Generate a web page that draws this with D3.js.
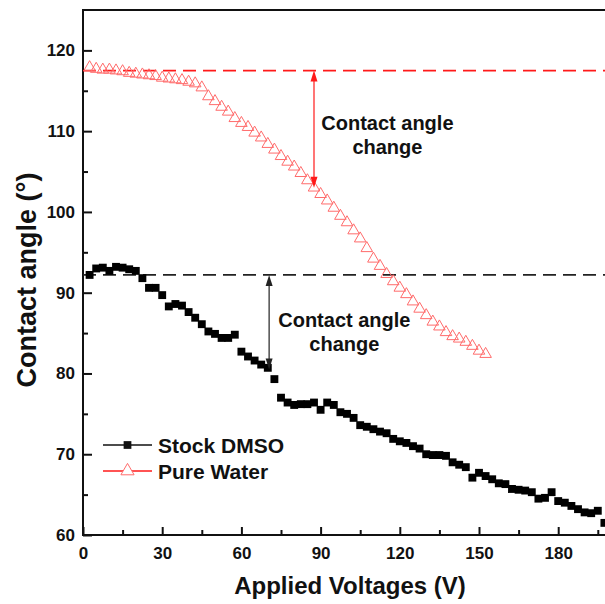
<!DOCTYPE html>
<html>
<head>
<meta charset="utf-8">
<script src="https://cdn.jsdelivr.net/npm/d3@7"></script>
<style>
body { margin: 0; background: #fff; }
text { font-family: "Liberation Sans", Arial, sans-serif; font-weight: bold; fill: #111; }
</style>
</head>
<body>
<svg id="chart" width="605" height="604"></svg>
<script>
// Stock DMSO, contact angle vs voltage
var dmsoV = [2.5,5,7.5,10,12.5,15,17.5,20,22.5,25,27.5,30,32.5,35,37.5,40,42.5,45,47.5,50,
  52.5,55,57.5,60,62.5,65,67.5,70,72.5,75,77.5,80,82.5,85,87.5,90,92.5,95,97.5,100,
  102.5,105,107.5,110,112.5,115,117.5,120,122.5,125,127.5,130,132.5,135,137.5,140,142.5,145,147.5,150,
  152.5,155,157.5,160,162.5,165,167.5,170,172.5,175,177.5,180,182.5,185,187.5,190,192.5,195,197.5];
var dmsoAngle = [92.2,93.0,93.1,92.7,93.2,93.1,92.9,92.7,91.8,90.6,90.6,89.7,88.3,88.6,88.4,87.6,86.9,86.1,85.2,84.9,
  84.4,84.4,84.8,82.7,82.1,81.6,81.1,80.7,79.3,77.0,76.4,76.1,76.2,76.2,76.4,75.5,76.4,76.1,75.2,75.0,
  74.5,73.6,73.4,73.1,72.8,72.6,71.9,71.6,71.4,71.0,70.7,70.0,69.9,69.9,69.8,69.0,68.7,68.4,67.1,67.7,
  67.3,66.9,66.4,66.3,65.7,65.6,65.5,65.3,64.5,64.6,65.3,64.2,64.0,63.6,63.2,62.8,62.7,63.0,61.5];

// Pure Water
var waterV = [2.5,5,7.5,10,12.5,15,17.5,20,22.5,25,27.5,30,32.5,35,37.5,40,42.5,45,47.5,50,
  52.5,55,57.5,60,62.5,65,67.5,70,72.5,75,77.5,80,82.5,85,87.5,90,92.5,95,97.5,100,
  102.5,105,107.5,110,112.5,115,117.5,120,122.5,125,127.5,130,132.5,135,137.5,140,142.5,145,147.5,150,152.5];
var waterAngle = [117.9,117.7,117.6,117.6,117.5,117.4,117.2,117.1,117.0,116.9,116.8,116.6,116.5,116.4,116.3,116.1,115.9,115.4,114.3,113.7,
  113.0,112.4,111.6,111.0,110.5,109.8,109.2,108.4,107.7,106.9,106.2,105.6,104.8,103.9,103.0,102.2,101.4,100.5,99.5,98.7,
  97.7,96.7,95.5,94.2,93.3,92.3,91.4,90.6,89.8,88.9,88.0,87.2,86.4,85.8,85.1,84.6,84.3,83.9,83.4,82.8,82.4];

var xTicks = [0,30,60,90,120,150,180];
var xMinor = [15,45,75,105,135,165,195];
var yTicks = [60,70,80,90,100,110,120];
var yMinor = [65,75,85,95,105,115];

// reference levels and arrows
var refLines = [ {angle: 117.5, color: "#ff1a1a"}, {angle: 92.2, color: "#222"} ];
var arrows = [ {v: 87.5, from: 117.5, to: 103.0, color: "#ff1a1a"},
               {v: 70.5, from: 92.2, to: 80.5, color: "#222"} ];
var notes = [ {v: 115.3, angle: 110.1, lines: ["Contact angle", "change"]},
              {v: 99.0, angle: 85.7, lines: ["Contact angle", "change"]} ];

var legendItems = [ {name: "Stock DMSO", color: "#111", shape: "square"},
                    {name: "Pure Water", color: "#ff1a1a", shape: "triangle"} ];

var svg = d3.select("#chart");
var plotLeft = 83, plotBottom = 535, plotTop = 10;

var x = d3.scaleLinear().domain([0, 200]).range([plotLeft, 611]);
var y = d3.scaleLinear().domain([60, 125]).range([plotBottom, plotTop]);

// axes (ticks inward)
svg.append("g").attr("transform", "translate(0," + plotBottom + ")")
    .call(d3.axisBottom(x).tickValues(xTicks).tickSize(-8).tickSizeOuter(0).tickPadding(12));
svg.append("g").attr("transform", "translate(0," + plotBottom + ")")
    .call(d3.axisBottom(x).tickValues(xMinor).tickSize(-5).tickSizeOuter(0).tickFormat(""));
svg.append("g").attr("transform", "translate(" + plotLeft + ",0)")
    .call(d3.axisLeft(y).tickValues(yTicks).tickSize(-9).tickSizeOuter(0).tickPadding(8));
svg.append("g").attr("transform", "translate(" + plotLeft + ",0)")
    .call(d3.axisLeft(y).tickValues(yMinor).tickSize(-5).tickSizeOuter(0).tickFormat(""));

svg.selectAll(".domain").remove();
svg.selectAll(".tick line").attr("stroke", "#111").attr("stroke-width", 2);
svg.selectAll(".tick text").style("font-size", "17px").attr("fill", "#111");

// frame
svg.append("path")
    .attr("d", "M605," + plotTop + "H" + plotLeft + "V" + plotBottom + "H605")
    .attr("fill", "none").attr("stroke", "#111").attr("stroke-width", 2);

// dashed reference lines
svg.selectAll(".ref").data(refLines).enter().append("line")
    .attr("x1", x(0)).attr("x2", 605)
    .attr("y1", d => y(d.angle)).attr("y2", d => y(d.angle))
    .attr("stroke", d => d.color).attr("stroke-width", 1.8)
    .attr("stroke-dasharray", "13,7");

// data
var dmso = dmsoV.map((v, i) => ({v: v, a: dmsoAngle[i]}));
var water = waterV.map((v, i) => ({v: v, a: waterAngle[i]}));

svg.append("g").selectAll("path").data(dmso).enter().append("path")
    .attr("transform", d => "translate(" + x(d.v) + "," + y(d.a) + ")")
    .attr("d", d3.symbol().type(d3.symbolSquare).size(62))
    .attr("fill", "#000");

svg.append("g").selectAll("path").data(water).enter().append("path")
    .attr("transform", d => "translate(" + x(d.v) + "," + y(d.a) + ")")
    .attr("d", d3.symbol().type(d3.symbolTriangle).size(58))
    .attr("fill", "none").attr("stroke", "#ff6b6b").attr("stroke-width", 1);

// arrows
arrows.forEach(function(a) {
    var ax = x(a.v), y1 = y(a.from), y2 = y(a.to);
    svg.append("line").attr("x1", ax).attr("x2", ax).attr("y1", y1 + 8).attr("y2", y2 - 8)
        .attr("stroke", a.color).attr("stroke-width", 1.2);
    svg.append("path").attr("d", "M" + ax + "," + y1 + "l-3.5,11h7z").attr("fill", a.color);
    svg.append("path").attr("d", "M" + ax + "," + y2 + "l-3.5,-11h7z").attr("fill", a.color);
});

// annotations
notes.forEach(function(n) {
    var t = svg.append("text").attr("x", x(n.v)).attr("y", y(n.angle))
        .attr("text-anchor", "middle").style("font-size", "20px");
    n.lines.forEach(function(l, i) {
        t.append("tspan").attr("x", x(n.v)).attr("dy", i ? 24 : 0).text(l);
    });
});

// legend
var lg = svg.append("g").attr("transform", "translate(103,445)");
legendItems.forEach(function(it, i) {
    var g = lg.append("g").attr("transform", "translate(0," + (i * 26) + ")");
    g.append("line").attr("x1", 0).attr("x2", 49).attr("stroke", it.color).attr("stroke-width", 1.5);
    if (it.shape == "square") {
        g.append("path").attr("transform", "translate(24.5,0)")
            .attr("d", d3.symbol().type(d3.symbolSquare).size(60)).attr("fill", it.color);
    } else {
        g.append("path").attr("transform", "translate(24.5,0)")
            .attr("d", d3.symbol().type(d3.symbolTriangle).size(75))
            .attr("fill", "#fff").attr("stroke", "#ff6b6b").attr("stroke-width", 1);
    }
    g.append("text").attr("x", 55).attr("y", 8).style("font-size", "21px").text(it.name);
});

// axis titles
svg.append("text").attr("x", (plotLeft + 605) / 2 + 6).attr("y", 594)
    .attr("text-anchor", "middle").style("font-size", "24px").text("Applied Voltages (V)");
svg.append("text").attr("transform", "translate(36,280) rotate(-90)")
    .attr("text-anchor", "middle").style("font-size", "27px").text("Contact angle (°)");
</script>
</body>
</html>
